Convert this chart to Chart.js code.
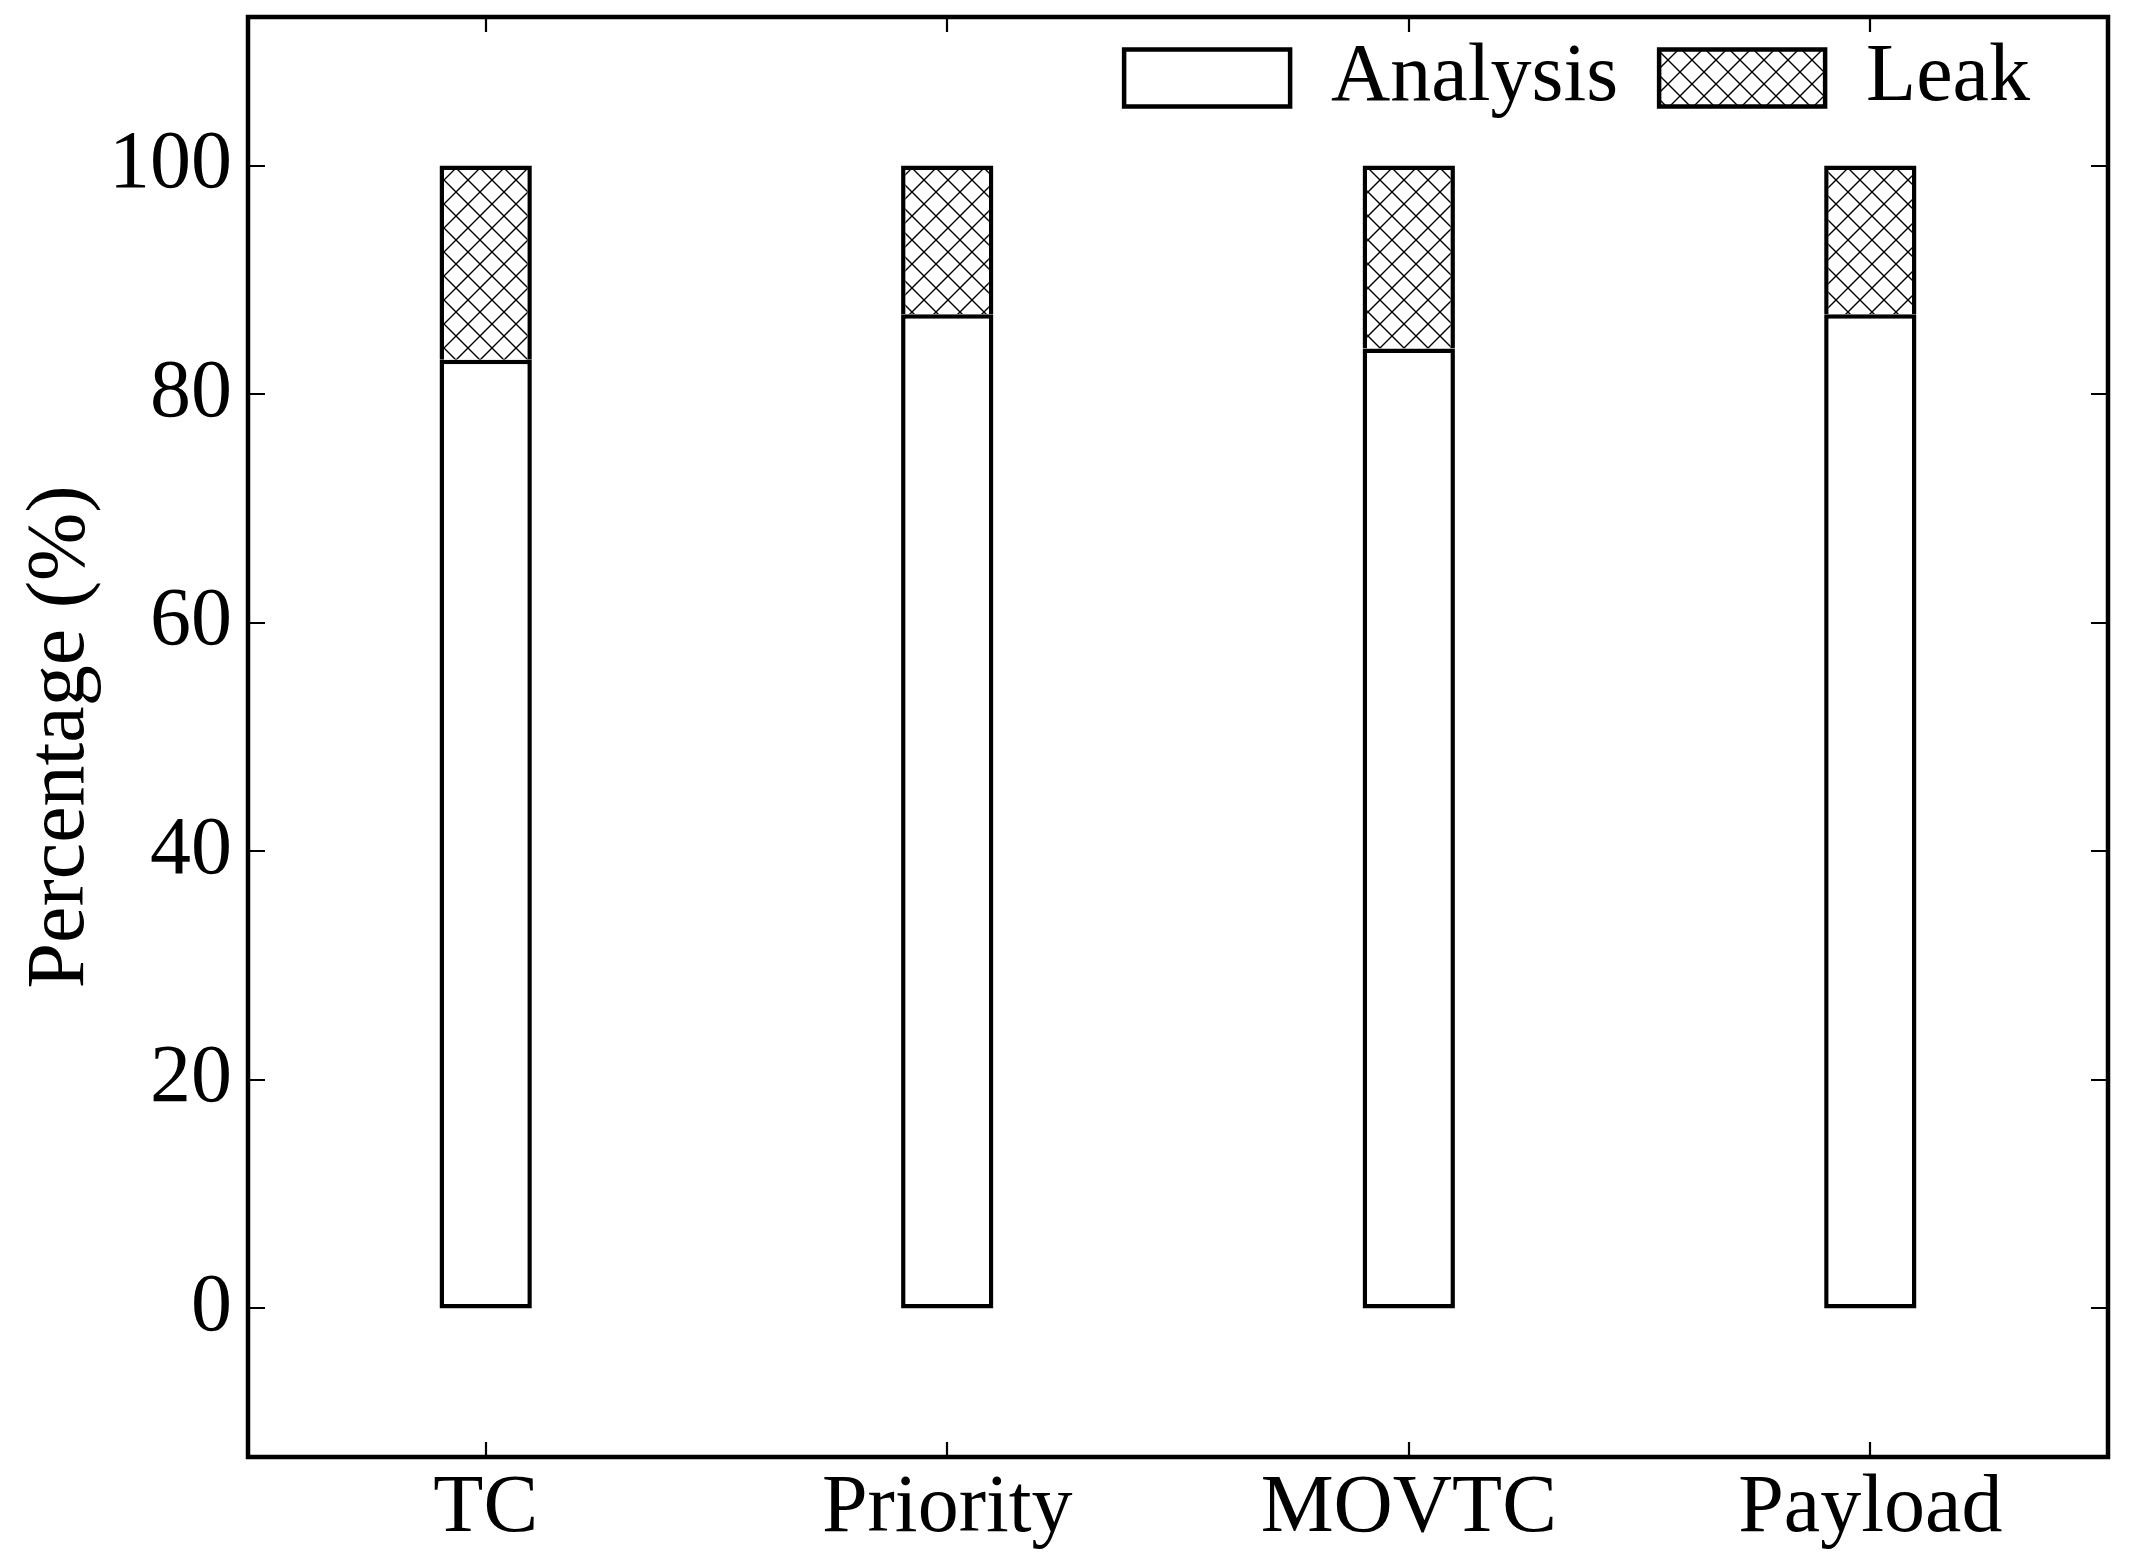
<!DOCTYPE html>
<html>
<head>
<meta charset="utf-8">
<script src="https://cdn.jsdelivr.net/npm/chart.js@4/dist/chart.umd.min.js"></script>
<style>
  html, body { margin: 0; padding: 0; background: #fff; }
  #wrap { width: 2132px; height: 1558px; }
</style>
</head>
<body>
<div id="wrap"><canvas id="c" width="2132" height="1558"></canvas></div>
<script>
const categories = ['TC', 'Priority', 'MOVTC', 'Payload'];
const analysisValues = [83, 87, 84, 87];
const leakValues = [17, 13, 16, 13];
const seriesNames = ['Analysis', 'Leak'];
const yTickValues = [0, 20, 40, 60, 80, 100];
const yMin = -13;
const yMax = 113;
const xMin = -0.515;
const xMax = 3.515;

const FONT = 'Liberation Serif';

function makeHatch() {
  const s = 24;
  const c = document.createElement('canvas');
  c.width = s; c.height = s;
  const g = c.getContext('2d');
  g.fillStyle = '#fff';
  g.fillRect(0, 0, s, s);
  g.strokeStyle = '#000';
  g.lineWidth = 1.4;
  g.beginPath();
  g.moveTo(0, 0); g.lineTo(s, s);
  g.moveTo(0, s); g.lineTo(s, 0);
  g.stroke();
  return g.createPattern(c, 'repeat');
}

const ctx = document.getElementById('c').getContext('2d');
const hatch = makeHatch();

const framePlugin = {
  id: 'frame',
  beforeLayout(chart) {
    if (chart.legend) chart.legend.isHorizontal = () => true;
  },
  afterLayout(chart) {
    const a = chart.chartArea;
    const lg = chart.legend;
    if (lg) {
      lg.left = a.left;
      lg.right = a.right - 37;
      lg.top = a.top - 21;
    }
  },
  afterDatasetsDraw(chart) {
    const { ctx, chartArea: a, scales: { x, y } } = chart;
    ctx.save();
    ctx.strokeStyle = '#000';
    ctx.lineWidth = 2.2;
    ctx.beginPath();
    y.ticks.forEach((t, i) => {
      const py = Math.round(y.getPixelForTick(i));
      ctx.moveTo(a.left, py); ctx.lineTo(a.left + 17, py);
      ctx.moveTo(a.right, py); ctx.lineTo(a.right - 17, py);
    });
    x.ticks.forEach((t, i) => {
      const px = Math.round(x.getPixelForTick(i));
      ctx.moveTo(px, a.bottom); ctx.lineTo(px, a.bottom - 15);
      ctx.moveTo(px, a.top); ctx.lineTo(px, a.top + 15);
    });
    ctx.stroke();
    ctx.lineWidth = 4.5;
    ctx.strokeRect(a.left, a.top, a.right - a.left, a.bottom - a.top);
    ctx.restore();
  }
};

new Chart(ctx, {
  type: 'bar',
  data: {
    datasets: [
      {
        label: seriesNames[0],
        data: analysisValues.map((v, i) => ({ x: i, y: v })),
        backgroundColor: '#ffffff',
        borderColor: '#000000',
        borderWidth: 4.5,
        borderSkipped: false,
        inflateAmount: 0
      },
      {
        label: seriesNames[1],
        data: leakValues.map((v, i) => ({ x: i, y: v })),
        backgroundColor: hatch,
        borderColor: '#000000',
        borderWidth: 4.5,
        borderSkipped: 'start',
        inflateAmount: 0
      }
    ]
  },
  options: {
    responsive: false,
    animation: false,
    devicePixelRatio: 1,
    layout: { padding: { left: 0, top: 17, right: 24, bottom: 0 } },
    datasets: { bar: { categoryPercentage: 1.0, barPercentage: 0.2 } },
    plugins: {
      tooltip: { enabled: false },
      legend: {
        position: 'chartArea',
        align: 'end',
        labels: {
          boxWidth: 166,
          boxHeight: 57,
          padding: 41,
          color: '#000',
          font: { family: FONT, size: 82 }
        }
      }
    },
    scales: {
      x: {
        type: 'linear',
        stacked: true,
        offset: false,
        min: xMin,
        max: xMax,
        grid: { display: false, drawTicks: false },
        border: { display: false },
        afterBuildTicks: s => { s.ticks = categories.map((c, i) => ({ value: i })); },
        ticks: {
          color: '#000', padding: 3, font: { family: FONT, size: 82 }, maxRotation: 0, autoSkip: false,
          callback: v => categories[v]
        },
        afterFit: s => { s.height = 101; s.paddingLeft = 0; s.paddingRight = 0; }
      },
      y: {
        stacked: true,
        min: yMin,
        max: yMax,
        grid: { display: false, drawTicks: false },
        border: { display: false },
        afterBuildTicks: s => { s.ticks = yTickValues.map(v => ({ value: v })); },
        ticks: { color: '#000', padding: 16, font: { family: FONT, size: 82 } },
        title: {
          display: true,
          text: 'Percentage (%)',
          color: '#000',
          font: { family: FONT, size: 82, lineHeight: 1.2 },
          padding: { top: 12, bottom: 0 }
        },
        afterFit: s => { s.width = 248; s.paddingTop = 0; s.paddingBottom = 0; }
      }
    }
  },
  plugins: [framePlugin]
});
</script>
</body>
</html>
